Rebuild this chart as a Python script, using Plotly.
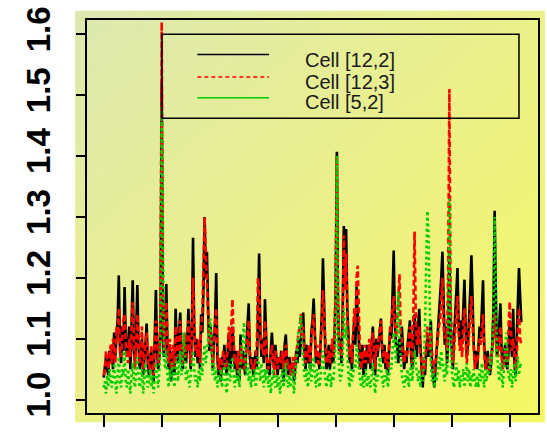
import base64
import plotly.graph_objects as go

# ---------------- data ----------------
x_index = list(range(0, 361))

cell_12_2 = [
    1.036, 1.06, 1.07, 1.05, 1.04, 1.08, 1.06, 1.09, 1.05, 1.11,
    1.07, 1.10, 1.13, 1.204, 1.09, 1.06, 1.12, 1.08, 1.185, 1.10,
    1.07, 1.09, 1.12, 1.05, 1.14, 1.196, 1.08, 1.06, 1.11, 1.188,
    1.09, 1.05, 1.07, 1.10, 1.04, 1.06, 1.09, 1.125, 1.06, 1.04,
    1.07, 1.08, 1.05, 1.03, 1.10, 1.18, 1.08, 1.05, 1.07, 1.12,
    1.52, 1.10, 1.07, 1.13, 1.19, 1.08, 1.05, 1.09, 1.03, 1.06,
    1.08, 1.04, 1.149, 1.09, 1.06, 1.11, 1.143, 1.07, 1.05, 1.08,
    1.10, 1.06, 1.09, 1.149, 1.08, 1.05, 1.11, 1.266, 1.12, 1.07,
    1.10, 1.06, 1.09, 1.05, 1.14, 1.11, 1.18, 1.30, 1.20, 1.243,
    1.15, 1.08, 1.12, 1.10, 1.05, 1.09, 1.13, 1.208, 1.07, 1.04,
    1.06, 1.03, 1.07, 1.05, 1.09, 1.06, 1.04, 1.08, 1.11, 1.05,
    1.07, 1.12, 1.09, 1.05, 1.08, 1.04, 1.06, 1.03, 1.107, 1.05,
    1.08, 1.06, 1.04, 1.09, 1.12, 1.158, 1.07, 1.05, 1.07, 1.04,
    1.06, 1.08, 1.05, 1.14, 1.24, 1.11, 1.07, 1.10, 1.06, 1.165,
    1.09, 1.05, 1.06, 1.04, 1.08, 1.11, 1.07, 1.05, 1.09, 1.06,
    1.04, 1.07, 1.05, 1.08, 1.06, 1.03, 1.09, 1.107, 1.06, 1.04,
    1.07, 1.05, 1.04, 1.06, 1.03, 1.05, 1.08, 1.06, 1.10, 1.07,
    1.09, 1.12, 1.143, 1.08, 1.05, 1.09, 1.06, 1.08, 1.05, 1.11,
    1.13, 1.166, 1.09, 1.06, 1.08, 1.07, 1.05, 1.10, 1.14, 1.232,
    1.12, 1.08, 1.05, 1.06, 1.09, 1.05, 1.07, 1.09, 1.06, 1.10,
    1.18, 1.407, 1.15, 1.08, 1.10, 1.06, 1.14, 1.285, 1.20, 1.28,
    1.15, 1.09, 1.06, 1.08, 1.05, 1.10, 1.13, 1.09, 1.185, 1.14,
    1.08, 1.05, 1.06, 1.09, 1.04, 1.07, 1.05, 1.09, 1.06, 1.08,
    1.05, 1.09, 1.12, 1.07, 1.04, 1.10, 1.07, 1.09, 1.11, 1.133,
    1.08, 1.06, 1.09, 1.05, 1.07, 1.04, 1.08, 1.12, 1.10, 1.16,
    1.245, 1.13, 1.09, 1.09, 1.06, 1.10, 1.07, 1.12, 1.08, 1.05,
    1.07, 1.06, 1.09, 1.11, 1.13, 1.07, 1.05, 1.09, 1.14, 1.10,
    1.07, 1.12, 1.149, 1.09, 1.05, 1.02, 1.06, 1.04, 1.08, 1.10,
    1.07, 1.10, 1.13, 1.06, 1.04, 1.02, 1.05, 1.08, 1.11, 1.13,
    1.16, 1.20, 1.243, 1.15, 1.09, 1.12, 1.06, 1.10, 1.25, 1.12,
    1.07, 1.05, 1.10, 1.14, 1.18, 1.216, 1.12, 1.09, 1.13, 1.10,
    1.15, 1.197, 1.12, 1.07, 1.09, 1.13, 1.18, 1.237, 1.15, 1.09,
    1.06, 1.08, 1.05, 1.09, 1.12, 1.10, 1.15, 1.196, 1.09, 1.06,
    1.05, 1.08, 1.06, 1.04, 1.06, 1.09, 1.15, 1.31, 1.18, 1.07,
    1.09, 1.12, 1.158, 1.08, 1.06, 1.07, 1.09, 1.06, 1.05, 1.08,
    1.13, 1.10, 1.07, 1.149, 1.06, 1.04, 1.09, 1.15, 1.216, 1.17,
    1.127,
]

cell_12_3 = [
    1.04, 1.05, 1.08, 1.06, 1.05, 1.07, 1.09, 1.06, 1.10, 1.08,
    1.06, 1.12, 1.10, 1.15, 1.08, 1.07, 1.11, 1.13, 1.14, 1.09,
    1.08, 1.06, 1.10, 1.07, 1.12, 1.16, 1.10, 1.05, 1.09, 1.14,
    1.10, 1.06, 1.08, 1.12, 1.05, 1.07, 1.10, 1.11, 1.07, 1.05,
    1.06, 1.09, 1.06, 1.04, 1.09, 1.13, 1.10, 1.06, 1.08, 1.15,
    1.62, 1.14, 1.08, 1.12, 1.16, 1.09, 1.06, 1.10, 1.05, 1.07,
    1.09, 1.05, 1.12, 1.10, 1.07, 1.09, 1.13, 1.08, 1.06, 1.09,
    1.11, 1.07, 1.08, 1.13, 1.09, 1.06, 1.10, 1.20, 1.13, 1.08,
    1.09, 1.07, 1.10, 1.06, 1.12, 1.14, 1.22, 1.30, 1.24, 1.19,
    1.13, 1.09, 1.11, 1.08, 1.06, 1.10, 1.12, 1.15, 1.08, 1.05,
    1.07, 1.04, 1.06, 1.08, 1.07, 1.05, 1.06, 1.09, 1.12, 1.08,
    1.13, 1.165, 1.10, 1.06, 1.07, 1.05, 1.08, 1.04, 1.09, 1.06,
    1.07, 1.05, 1.06, 1.08, 1.10, 1.13, 1.08, 1.06, 1.05, 1.06,
    1.05, 1.07, 1.09, 1.20, 1.18, 1.12, 1.08, 1.09, 1.07, 1.13,
    1.10, 1.06, 1.05, 1.06, 1.07, 1.09, 1.06, 1.04, 1.08, 1.07,
    1.05, 1.06, 1.07, 1.06, 1.08, 1.05, 1.07, 1.09, 1.07, 1.05,
    1.06, 1.04, 1.05, 1.07, 1.04, 1.06, 1.07, 1.09, 1.11, 1.12,
    1.141, 1.10, 1.12, 1.07, 1.06, 1.08, 1.07, 1.09, 1.06, 1.10,
    1.12, 1.14, 1.10, 1.07, 1.09, 1.06, 1.06, 1.09, 1.12, 1.18,
    1.13, 1.09, 1.06, 1.07, 1.08, 1.06, 1.08, 1.10, 1.07, 1.11,
    1.20, 1.40, 1.17, 1.09, 1.08, 1.07, 1.12, 1.27, 1.18, 1.24,
    1.13, 1.10, 1.07, 1.09, 1.06, 1.11, 1.15, 1.12, 1.20, 1.22,
    1.12, 1.07, 1.05, 1.08, 1.06, 1.09, 1.06, 1.08, 1.07, 1.10,
    1.06, 1.10, 1.11, 1.08, 1.05, 1.09, 1.08, 1.10, 1.12, 1.13,
    1.09, 1.07, 1.08, 1.06, 1.08, 1.05, 1.09, 1.11, 1.12, 1.14,
    1.17, 1.12, 1.10, 1.13, 1.16, 1.206, 1.11, 1.10, 1.07, 1.06,
    1.08, 1.07, 1.08, 1.10, 1.12, 1.08, 1.06, 1.15, 1.276, 1.14,
    1.09, 1.10, 1.12, 1.08, 1.06, 1.04, 1.07, 1.05, 1.09, 1.12,
    1.08, 1.09, 1.11, 1.07, 1.05, 1.04, 1.06, 1.09, 1.10, 1.12,
    1.13, 1.16, 1.20, 1.12, 1.10, 1.11, 1.08, 1.22, 1.51, 1.16,
    1.09, 1.06, 1.08, 1.11, 1.14, 1.17, 1.11, 1.08, 1.10, 1.07,
    1.12, 1.15, 1.10, 1.06, 1.08, 1.11, 1.14, 1.17, 1.12, 1.08,
    1.05, 1.07, 1.06, 1.08, 1.10, 1.09, 1.12, 1.14, 1.08, 1.05,
    1.06, 1.07, 1.05, 1.05, 1.07, 1.08, 1.10, 1.14, 1.10, 1.08,
    1.07, 1.10, 1.12, 1.07, 1.05, 1.06, 1.08, 1.07, 1.06, 1.12,
    1.161, 1.12, 1.08, 1.10, 1.07, 1.05, 1.07, 1.12, 1.15, 1.10,
    1.09,
]

cell_5_2 = [
    1.02, 1.03, 1.01, 1.04, 1.02, 1.05, 1.03, 1.02, 1.04, 1.06,
    1.03, 1.01, 1.04, 1.07, 1.03, 1.02, 1.05, 1.04, 1.08, 1.03,
    1.02, 1.05, 1.03, 1.01, 1.04, 1.06, 1.03, 1.02, 1.05, 1.07,
    1.04, 1.02, 1.03, 1.05, 1.01, 1.03, 1.06, 1.04, 1.02, 1.03,
    1.05, 1.02, 1.04, 1.01, 1.03, 1.06, 1.04, 1.02, 1.05, 1.09,
    1.48, 1.20, 1.07, 1.05, 1.08, 1.04, 1.02, 1.05, 1.03, 1.06,
    1.04, 1.02, 1.05, 1.07, 1.03, 1.05, 1.08, 1.04, 1.06, 1.11,
    1.07, 1.03, 1.05, 1.04, 1.02, 1.04, 1.06, 1.08, 1.05, 1.03,
    1.04, 1.02, 1.05, 1.03, 1.06, 1.04, 1.07, 1.09, 1.06, 1.08,
    1.10, 1.12, 1.133, 1.08, 1.04, 1.06, 1.03, 1.05, 1.02, 1.04,
    1.03, 1.05, 1.02, 1.04, 1.06, 1.03, 1.01, 1.04, 1.06, 1.03,
    1.05, 1.07, 1.04, 1.02, 1.04, 1.03, 1.05, 1.02, 1.06, 1.08,
    1.10, 1.127, 1.07, 1.04, 1.06, 1.03, 1.05, 1.02, 1.04, 1.03,
    1.05, 1.02, 1.04, 1.07, 1.05, 1.03, 1.06, 1.04, 1.02, 1.05,
    1.03, 1.05, 1.02, 1.04, 1.01, 1.03, 1.05, 1.03, 1.02, 1.04,
    1.02, 1.04, 1.01, 1.03, 1.05, 1.02, 1.04, 1.06, 1.03, 1.02,
    1.04, 1.02, 1.03, 1.05, 1.01, 1.04, 1.06, 1.08, 1.11, 1.12,
    1.138, 1.09, 1.06, 1.04, 1.03, 1.05, 1.02, 1.04, 1.06, 1.03,
    1.05, 1.07, 1.04, 1.02, 1.05, 1.03, 1.02, 1.04, 1.06, 1.08,
    1.05, 1.03, 1.02, 1.04, 1.03, 1.05, 1.02, 1.04, 1.03, 1.06,
    1.10, 1.40, 1.12, 1.05, 1.03, 1.04, 1.06, 1.15, 1.10, 1.12,
    1.07, 1.04, 1.02, 1.05, 1.03, 1.04, 1.06, 1.05, 1.09, 1.08,
    1.05, 1.03, 1.02, 1.04, 1.02, 1.03, 1.05, 1.02, 1.04, 1.03,
    1.02, 1.04, 1.06, 1.03, 1.01, 1.04, 1.03, 1.05, 1.07, 1.05,
    1.03, 1.02, 1.04, 1.03, 1.05, 1.02, 1.04, 1.06, 1.05, 1.08,
    1.11, 1.09, 1.06, 1.12, 1.177, 1.10, 1.06, 1.04, 1.03, 1.02,
    1.04, 1.03, 1.05, 1.02, 1.04, 1.06, 1.03, 1.05, 1.08, 1.06,
    1.04, 1.03, 1.05, 1.02, 1.04, 1.03, 1.06, 1.12, 1.22, 1.31,
    1.27, 1.15, 1.06, 1.03, 1.05, 1.02, 1.04, 1.03, 1.05, 1.07,
    1.05, 1.08, 1.06, 1.04, 1.03, 1.06, 1.04, 1.10, 1.33, 1.12,
    1.05, 1.03, 1.02, 1.04, 1.06, 1.03, 1.05, 1.02, 1.04, 1.03,
    1.05, 1.02, 1.04, 1.06, 1.03, 1.05, 1.02, 1.04, 1.03, 1.05,
    1.03, 1.02, 1.04, 1.02, 1.05, 1.03, 1.06, 1.04, 1.02, 1.05,
    1.03, 1.05, 1.04, 1.07, 1.05, 1.09, 1.14, 1.30, 1.16, 1.08,
    1.05, 1.03, 1.06, 1.04, 1.02, 1.05, 1.08, 1.11, 1.07, 1.04,
    1.03, 1.05, 1.02, 1.04, 1.06, 1.03, 1.05, 1.07, 1.04, 1.06,
    1.05,
]

series_names = ["Cell [12,2]", "Cell [12,3]", "Cell [5,2]"]
y_tick_values = [1.0, 1.1, 1.2, 1.3, 1.4, 1.5, 1.6]
y_tick_labels = ["1.0", "1.1", "1.2", "1.3", "1.4", "1.5", "1.6"]
x_tick_values = [0, 50, 100, 150, 200, 250, 300, 350]

# ---------------- styles ----------------
colors = ["#000000", "#ff0000", "#00cc00"]
widths = [2.6, 2.6, 2.6]
dashes = ["solid", "6px,3px", "2.6px,3px"]
legend_dashes = ["solid", "4px,3px", "solid"]

fig = go.Figure()
for ys, name, c, w, d in zip([cell_12_2, cell_12_3, cell_5_2], series_names, colors, widths, dashes):
    fig.add_trace(go.Scatter(x=x_index, y=ys, mode="lines", name=name,
                             line=dict(color=c, width=w, dash=d), showlegend=False,
                             hoverinfo="skip"))

# gradient background (svg image)
svg = ('<svg xmlns="http://www.w3.org/2000/svg" width="472" height="432" preserveAspectRatio="none">'
       '<defs><linearGradient id="g" x1="0" y1="0" x2="1" y2="1">'
       '<stop offset="0" stop-color="#dce8b0"/>'
       '<stop offset="0.5" stop-color="#ebf08a"/>'
       '<stop offset="1" stop-color="#f6f862"/>'
       '</linearGradient></defs><rect width="472" height="432" fill="url(#g)"/></svg>')
src = "data:image/svg+xml;base64," + base64.b64encode(svg.encode()).decode()

W, H = 547, 432
ml, mr, mt, mb = 87, 7, 10, 10
pw, ph = W - ml - mr, H - mt - mb
gx0 = (75 - ml) / pw
gx1 = (W - ml) / pw
gy1 = 1 + mt / ph
gy0 = -mb / ph
fig.add_layout_image(dict(source=src, xref="paper", yref="paper", x=gx0, y=gy1,
                          sizex=gx1 - gx0, sizey=gy1 - gy0, sizing="stretch",
                          xanchor="left", yanchor="top", layer="below"))

# legend box (drawn manually)
leg_x0, leg_x1, leg_y0, leg_y1 = 50.2, 358, 1.462, 1.600
leg_line_x0, leg_line_x1 = 80.7, 142.5
leg_line_y = [1.567, 1.530, 1.496]
leg_text_x = 171.5
leg_text_y = [1.557, 1.522, 1.489]
fig.add_shape(type="rect", x0=leg_x0, x1=leg_x1, y0=leg_y0, y1=leg_y1,
              line=dict(color="black", width=1.5), fillcolor="rgba(0,0,0,0)")
for i in range(3):
    fig.add_shape(type="line", x0=leg_line_x0, x1=leg_line_x1, y0=leg_line_y[i], y1=leg_line_y[i],
                  line=dict(color=colors[i], width=1.5, dash=legend_dashes[i]))
    fig.add_annotation(x=leg_text_x, y=leg_text_y[i], text=series_names[i], showarrow=False,
                       xanchor="left", yanchor="middle",
                       font=dict(family="Liberation Sans, Arial", size=20, color="#1a1a1a"))

fig.update_layout(
    width=W, height=H,
    margin=dict(l=ml, r=mr, t=mt, b=mb, pad=0),
    paper_bgcolor="white",
    plot_bgcolor="rgba(0,0,0,0)",
    showlegend=False,
    xaxis=dict(range=[-14.4, 374.4], tickvals=x_tick_values, showticklabels=False,
               ticks="outside", ticklen=12, tickwidth=1.5, tickcolor="black",
               showgrid=False, zeroline=False, showline=True, linecolor="black",
               linewidth=2, mirror=True),
    yaxis=dict(range=[0.978, 1.6235], tickvals=y_tick_values, ticktext=y_tick_labels,
               ticks="outside", ticklen=9, tickwidth=1.5, tickcolor="black",
               tickangle=-90, ticklabelstandoff=13, ticklabeloverflow="allow",
               tickfont=dict(family="Liberation Sans, Arial", size=33, color="black", weight="bold"),
               showgrid=False, zeroline=False, showline=True, linecolor="black",
               linewidth=2, mirror=True),
)

fig.write_html("out.html")
